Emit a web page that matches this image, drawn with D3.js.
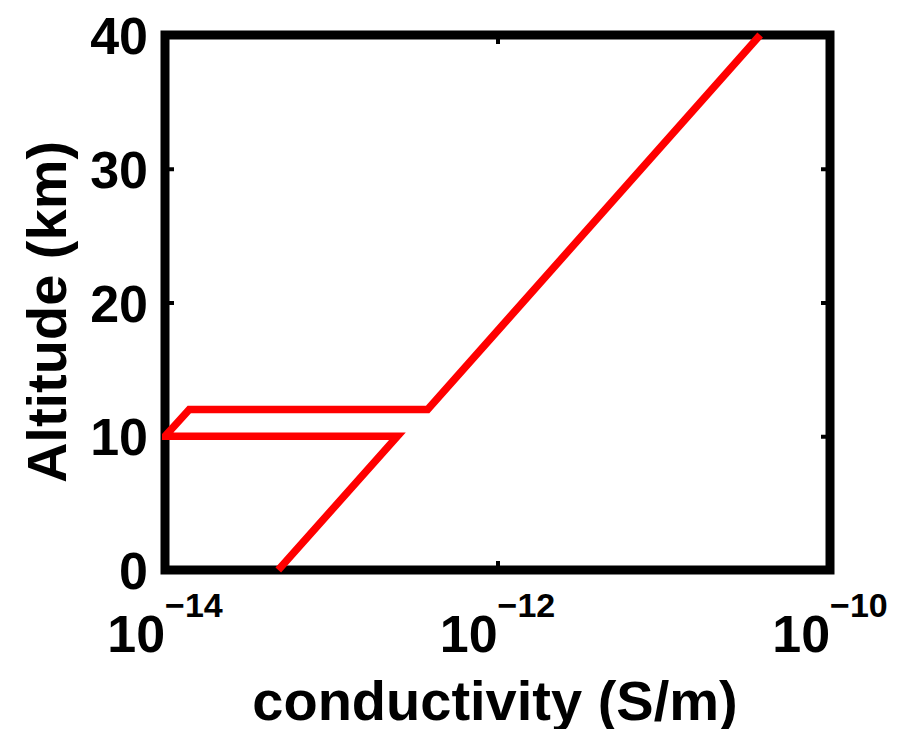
<!DOCTYPE html>
<html>
<head>
<meta charset="utf-8">
<script src="https://cdn.jsdelivr.net/npm/d3@7"></script>
<style>
  body { margin: 0; background: #fff; }
  svg { display: block; }
  text { font-family: "Liberation Sans", Arial, Helvetica, sans-serif; font-weight: bold; fill: #000; }
</style>
</head>
<body>
<svg width="900" height="729"></svg>
<script>
// conductivity profile (S/m) vs altitude (km)
var conductivity = [4.8e-14, 2.5e-13, 1e-14, 1.4e-14, 3.8e-13, 3.8e-11]
var altitude = [0, 10, 10, 12, 12, 40]

var xTicks = [1e-14, 1e-12, 1e-10]
var xTickExp = ['\u221214', '\u221212', '\u221210']
var yTicks = [0, 10, 20, 30, 40]

// plot box edges (note: "top" is reserved on window)
var boxL = 165, boxR = 830, boxT = 35, boxB = 570

var mapx = d3.scaleLog()
    .domain([1e-14, 1e-10])
    .range([boxL, boxR])

var mapy = d3.scaleLinear()
    .domain([0, 40])
    .range([boxB, boxT])

var svg = d3.select('svg')

svg.append('defs')
    .append('clipPath')
    .attr('id', 'plotclip')
    .append('rect')
    .attr('x', boxL - 3)
    .attr('y', boxT - 3)
    .attr('width', boxR - boxL + 6)
    .attr('height', boxB - boxT + 6)

// ticks (inward, on all four sides)
var gx = svg.append('g')
    .attr('transform', 'translate(0,' + boxB + ')')
    .call(d3.axisBottom(mapx).tickValues(xTicks).tickSize(-9).tickSizeOuter(0).tickFormat(''))
var gxTop = svg.append('g')
    .attr('transform', 'translate(0,' + boxT + ')')
    .call(d3.axisTop(mapx).tickValues(xTicks).tickSize(-9).tickSizeOuter(0).tickFormat(''))
var gy = svg.append('g')
    .attr('transform', 'translate(' + boxL + ',0)')
    .call(d3.axisLeft(mapy).tickValues(yTicks).tickSize(-9).tickSizeOuter(0).tickPadding(17))
var gyRight = svg.append('g')
    .attr('transform', 'translate(' + boxR + ',0)')
    .call(d3.axisRight(mapy).tickValues(yTicks).tickSize(-9).tickSizeOuter(0).tickFormat(''))

svg.selectAll('.domain').remove()
svg.selectAll('.tick line')
    .style('stroke', '#000')
    .style('stroke-width', 4)

gy.selectAll('.tick text')
    .style('font-size', '52px')
    .attr('dy', '0.36em')

// box
svg.append('rect')
    .attr('x', boxL)
    .attr('y', boxT)
    .attr('width', boxR - boxL)
    .attr('height', boxB - boxT)
    .style('fill', 'none')
    .style('stroke', '#000')
    .style('stroke-width', 9)
    .style('stroke-linejoin', 'miter')

// the profile, drawn over the box
var myline = d3.line()
    .x(function(d, i){
        return mapx(conductivity[i])
    })
    .y(function(d, i){
        return mapy(altitude[i])
    })

svg.append('path')
    .attr('d', myline(altitude))
    .attr('clip-path', 'url(#plotclip)')
    .style('fill', 'none')
    .style('stroke', '#ff0000')
    .style('stroke-width', 7.5)
    .style('stroke-linejoin', 'miter')

// x tick labels 10^n
xTicks.forEach(function(d, i){
    var t = svg.append('text')
        .attr('x', mapx(d))
        .attr('y', 652)
        .attr('text-anchor', 'middle')
    t.append('tspan')
        .style('font-size', '52px')
        .text('10')
    t.append('tspan')
        .attr('dy', -35)
        .style('font-size', '34px')
        .text(xTickExp[i])
})

svg.append('text')
    .attr('x', 495)
    .attr('y', 720)
    .attr('text-anchor', 'middle')
    .style('font-size', '56px')
    .text('conductivity (S/m)')

svg.append('text')
    .attr('transform', 'translate(66,312) rotate(-90)')
    .attr('text-anchor', 'middle')
    .style('font-size', '56px')
    .text('Altitude (km)')
</script>
</body>
</html>
